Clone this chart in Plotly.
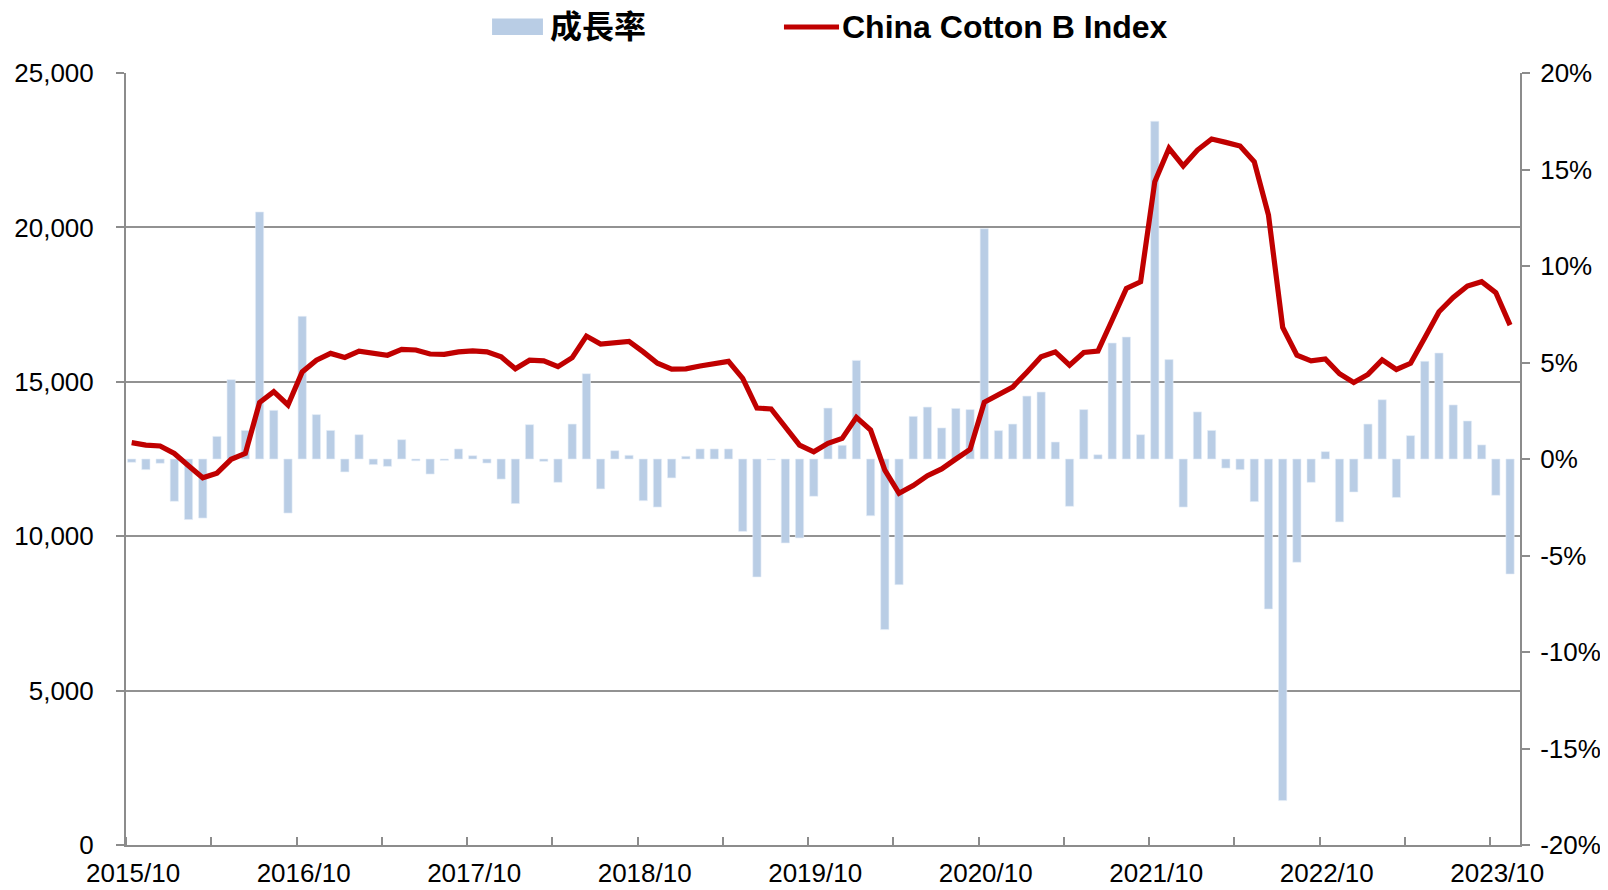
import plotly.graph_objects as go

# ---------------- data ----------------
start_year, start_month, n_months = 2015, 10, 98
months = []
y, m = start_year, start_month
for _ in range(n_months):
    months.append(f"{y}/{m:02d}")
    m += 1
    if m > 12:
        m = 1
        y += 1

cotton_index = [
    13030, 12950, 12920, 12680, 12280, 11890, 12040, 12490, 12680, 14330,
    14680, 14250, 15320, 15700, 15920, 15790, 15990, 15940, 15860, 16050,
    16030, 15900, 15890, 15970, 16000, 15970, 15810, 15420, 15700, 15680,
    15490, 15780, 16480, 16220, 16275, 16310, 15970, 15600, 15410, 15420,
    15510, 15600, 15660, 15110, 14150, 14120, 13540, 12950, 12735, 13006,
    13168, 13848, 13437, 12142, 11388, 11640, 11960, 12180, 12500, 12810,
    14340, 14570, 14830, 15310, 15810, 15970, 15540, 15950, 15994, 17000,
    18024, 18240, 21480, 22560, 21990, 22505, 22862, 22754, 22635, 22127,
    20400, 16760, 15864, 15680, 15740, 15260, 14980, 15240, 15710, 15400,
    15600, 16430, 17268, 17732, 18100, 18240, 17884, 16836,
]

growth_pct = [
    -0.17, -0.55, -0.22, -2.19, -3.14, -3.06, 1.17, 4.11, 1.48, 12.8,
    2.52, -2.8, 7.39, 2.3, 1.48, -0.67, 1.26, -0.29, -0.38, 1.0,
    -0.09, -0.78, -0.07, 0.52, 0.17, -0.21, -1.04, -2.31, 1.78, -0.12,
    -1.21, 1.81, 4.42, -1.55, 0.43, 0.19, -2.16, -2.49, -0.98, 0.14,
    0.52, 0.52, 0.52, -3.75, -6.11, -0.05, -4.35, -4.09, -1.93, 2.64,
    0.71, 5.11, -2.94, -8.84, -6.51, 2.21, 2.69, 1.61, 2.62, 2.56,
    11.93, 1.47, 1.81, 3.26, 3.47, 0.88, -2.45, 2.56, 0.22, 6.01,
    6.32, 1.26, 17.5, 5.15, -2.49, 2.44, 1.48, -0.47, -0.55, -2.21,
    -7.77, -17.7, -5.35, -1.21, 0.38, -3.26, -1.71, 1.81, 3.07, -1.99,
    1.21, 5.06, 5.49, 2.8, 1.97, 0.73, -1.88, -5.96,
]

bar_name = "成長率"
line_name = "China Cotton B Index"
left_ticks = [0, 5000, 10000, 15000, 20000, 25000]
right_ticks = [-20, -15, -10, -5, 0, 5, 10, 15, 20]

# ---------------- style ----------------
FONT = "Arial, 'Liberation Sans', 'Noto Sans CJK TC', sans-serif"
GRID = "#929292"
AXIS = "#8c8c8c"
BAR_COLOR = "#b9cde5"
LINE_COLOR = "#c00000"

x = list(range(len(months)))
label_idx = [i for i in x if months[i].endswith("/10")]
tick_off = -0.4  # tick marks sit slightly before the data points

fig = go.Figure()
fig.add_trace(go.Bar(
    x=x, y=growth_pct, name=bar_name, yaxis="y",
    marker=dict(color=BAR_COLOR, line=dict(color="#e6eef8", width=0.6)),
    width=0.58, showlegend=False,
))
fig.add_trace(go.Scatter(
    x=x, y=cotton_index, name=line_name, yaxis="y2", mode="lines",
    line=dict(color=LINE_COLOR, width=5.2), showlegend=False,
))

# ---- legend drawn as layout decorations (matches the wide Excel-style keys) ----
legend_font = dict(family=FONT, size=32, color="black", weight="bold")
fig.add_shape(type="rect", xref="paper", yref="paper",
              x0=0.2626, x1=0.2991, y0=1.0492, y1=1.0706,
              fillcolor=BAR_COLOR, line=dict(width=0))
fig.add_annotation(xref="paper", yref="paper", x=0.3030, y=1.0596,
                   xanchor="left", yanchor="middle", showarrow=False,
                   text=bar_name, font=legend_font)
fig.add_shape(type="line", xref="paper", yref="paper",
              x0=0.4720, x1=0.5115, y0=1.0596, y1=1.0596,
              line=dict(color=LINE_COLOR, width=5))
fig.add_annotation(xref="paper", yref="paper", x=0.5125, y=1.0596,
                   xanchor="left", yanchor="middle", showarrow=False,
                   text=line_name, font=legend_font)

# page body has an 8px default margin, so the figure is 8px smaller each way
fig.update_layout(
    width=1600, height=882,
    margin=dict(l=118, r=88, t=65, b=45, autoexpand=False),
    paper_bgcolor="white", plot_bgcolor="white",
    font=dict(family=FONT, size=26, color="black"),
    showlegend=False,
    bargap=0.4,
    xaxis=dict(
        range=[-0.4, len(months) - 0.3],
        tickmode="array",
        tickvals=[i + 0.1 for i in label_idx],
        ticktext=[months[i] for i in label_idx],
        ticks="", showgrid=False, zeroline=False,
        showline=True, linecolor=AXIS, linewidth=2,
        tickfont=dict(size=26),
        ticklabelstandoff=4,
        minor=dict(
            tickmode="array",
            tickvals=[i + tick_off for i in range(0, len(months), 6)],
            ticks="inside", ticklen=8, tickwidth=1.5, tickcolor=AXIS,
            showgrid=False,
        ),
    ),
    yaxis=dict(
        side="right", range=[-20, 20],
        tickmode="array", tickvals=right_ticks,
        ticktext=[f"{v}%" for v in right_ticks],
        ticks="outside", ticklen=8, tickwidth=1.5, tickcolor=AXIS,
        showgrid=False, zeroline=False,
        showline=True, linecolor=AXIS, linewidth=2,
        tickfont=dict(size=26),
        ticklabelstandoff=5,
    ),
    yaxis2=dict(
        side="left", overlaying="y", range=[0, 25000],
        tickmode="array", tickvals=left_ticks,
        ticktext=[f"{v:,}" for v in left_ticks],
        ticks="outside", ticklen=8, tickwidth=1.5, tickcolor=AXIS,
        showgrid=True, gridcolor=GRID, gridwidth=1.6,
        zeroline=False,
        showline=True, linecolor=AXIS, linewidth=2,
        tickfont=dict(size=26),
        ticklabelstandoff=17,
    ),
)

fig.write_html("out.html")
